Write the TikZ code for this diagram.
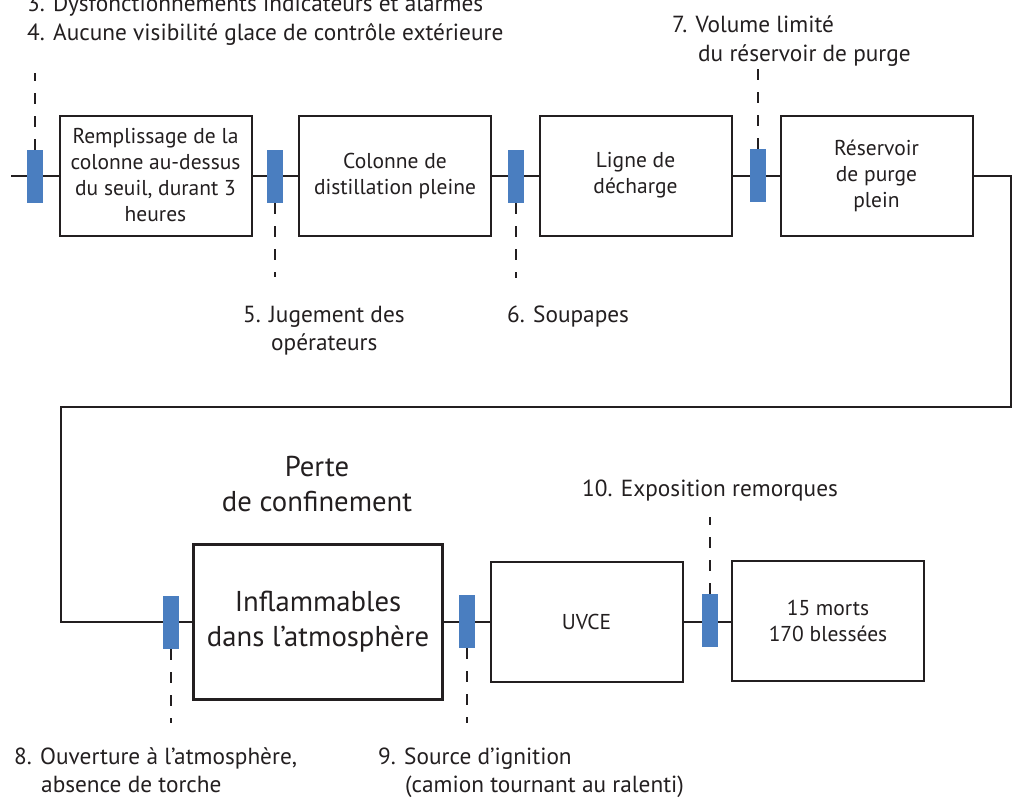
\documentclass[tikz,border=0pt]{standalone}
\usepackage{fontspec}
\setmainfont{PT Sans}
\usetikzlibrary{backgrounds}
\definecolor{ink}{HTML}{231F20}
\definecolor{barblue}{HTML}{4A7EC0}
\newcommand\labfont{\fontsize{23.3}{29}\selectfont}
\newcommand\boxfont{\fontsize{21.5}{26}\selectfont}
\newcommand\bigfont{\fontsize{28.7}{35}\selectfont}
\tikzset{
  box/.style={draw=ink, line width=2pt, minimum width=192pt, minimum height=120pt,
    align=center, inner sep=2pt, text=ink, font=\boxfont},
  bigbox/.style={box, line width=3pt, minimum width=249pt, minimum height=155pt, font=\bigfont},
  barrier/.style={fill=barblue, draw=none, minimum width=16pt, minimum height=53pt, inner sep=0pt},
  conn/.style={draw=ink, line width=2pt},
  dashline/.style={draw=ink, line width=2pt, dash pattern=on 11pt off 12pt},
  lab/.style={anchor=base west, inner sep=0pt, text=ink, font=\labfont},
  biglab/.style={anchor=base, inner sep=0pt, text=ink, font=\bigfont},
}
\begin{document}
\begin{tikzpicture}[x=1pt, y=-1pt]
\useasboundingbox (0,0) rectangle (1016,798);

% event boxes, first row
\node[box] (bx1) at (155.5,175.5) {Remplissage de la\\colonne au-dessus\\du seuil, durant 3\\heures};
\node[box] (bx2) at (395,175.5) {Colonne de\\distillation pleine};
\node[box] (bx3) at (635.5,175.5) {Ligne de\\décharge};
\node[box] (bx4) at (876.5,175.5) {Réservoir\\de purge\\plein};

% event boxes, second row
\node[bigbox] (bx5) at (318,622) {Inflammables\\dans l’atmosphère};
\node[box] (bx6) at (586.5,622) {UVCE};
\node[box] (bx7) at (828,621) {15 morts\\170 blessées};

% barriers
\node[barrier] (br1) at (35,176.5) {};
\node[barrier] (br2) at (275,176.5) {};
\node[barrier] (br3) at (516,176.5) {};
\node[barrier] (br4) at (758,175.5) {};
\node[barrier] (br5) at (171,622.5) {};
\node[barrier] (br6) at (467,621.5) {};
\node[barrier] (br7) at (710,620.5) {};

% free ends
\coordinate (start) at (11,175.5);
\coordinate (r1) at (1011,407);
\coordinate (l1) at (61,407);
\coordinate (d1) at (35,73);
\coordinate (d2) at (275,277);
\coordinate (d3) at (516,278);
\coordinate (d4) at (758,69);
\coordinate (d5) at (171,723);
\coordinate (d6) at (467,723);
\coordinate (d7) at (710,517);

\begin{scope}[on background layer]
  \draw[conn] (start) -- (bx1.west);
  \draw[conn] (bx1.east) -- (bx2.west);
  \draw[conn] (bx2.east) -- (bx3.west);
  \draw[conn] (bx3.east) -- (bx4.west);
  \draw[conn] (bx4.east) -| (r1) -- (l1) |- (bx5.west);
  \draw[conn] (bx5.east) -- (bx6.west);
  \draw[conn] (bx6.east) -- (bx6.east -| bx7.west);
\end{scope}

% barrier failure lines
\draw[dashline] (br1.north) -- (d1);
\draw[dashline] (br2.south) -- (d2);
\draw[dashline] (br3.south) -- (d3);
\draw[dashline] (br4.north) -- (d4);
\draw[dashline] (br5.south) -- (d5);
\draw[dashline] (br6.south) -- (d6);
\draw[dashline] (br7.north) -- (d7);

% labels
\node[lab] (lab3) at (27,11) {3. Dysfonctionnements indicateurs et alarmes};
\node[lab] (lab4) at (27,40) {4. Aucune visibilité glace de contrôle extérieure};
\node[lab] (lab5a) at (243,322) {5. Jugement des};
\node[lab] (lab5b) at (271,350) {opérateurs};
\node[lab] (lab6) at (507,322) {6. Soupapes};
\node[lab] (lab7a) at (672,32) {7. Volume limité};
\node[lab] (lab7b) at (698,61) {du réservoir de purge};
\node[lab] (lab8a) at (14,764) {8. Ouverture à l’atmosphère,};
\node[lab] (lab8b) at (41,792) {absence de torche};
\node[lab] (lab9a) at (378,764) {9. Source d’ignition};
\node[lab] (lab9b) at (405,792) {(camion tournant au ralenti)};
\node[lab] (lab10) at (582,496) {10. Exposition remorques};
\node[biglab] (perte1) at (317,476) {Perte};
\node[biglab] (perte2) at (317,511) {de confinement};
\end{tikzpicture}
\end{document}
